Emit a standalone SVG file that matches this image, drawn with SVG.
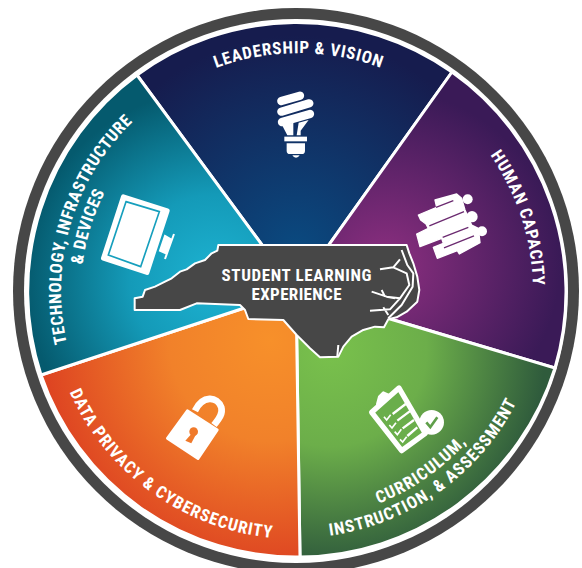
<svg xmlns="http://www.w3.org/2000/svg" width="582" height="568" viewBox="0 0 582 568">
<style>
.lbl{font-family:"Liberation Sans Narrow","Roboto Condensed","Liberation Sans",sans-serif;font-weight:700;font-size:17px;fill:#fff}
.sec{stroke:#fff;stroke-width:3}
.ic{fill:#fff}
</style>
<defs>
<radialGradient id="gb" gradientUnits="userSpaceOnUse" cx="296" cy="250" r="215"><stop offset="0" stop-color="#0a4a80"/><stop offset="1" stop-color="#161c4e"/></radialGradient>
<radialGradient id="gt" gradientUnits="userSpaceOnUse" cx="215" cy="280" r="190"><stop offset="0" stop-color="#1db3d2"/><stop offset=".45" stop-color="#149ab8"/><stop offset="1" stop-color="#055a6e"/></radialGradient>
<radialGradient id="gp" gradientUnits="userSpaceOnUse" cx="385" cy="265" r="175"><stop offset="0" stop-color="#8d2f80"/><stop offset="1" stop-color="#3a1a57"/></radialGradient>
<radialGradient id="gg" gradientUnits="userSpaceOnUse" cx="330" cy="350" r="215"><stop offset="0" stop-color="#79c14c"/><stop offset=".45" stop-color="#6cae4a"/><stop offset="1" stop-color="#2f5b3c"/></radialGradient>
<radialGradient id="go" gradientUnits="userSpaceOnUse" cx="270" cy="340" r="225"><stop offset="0" stop-color="#f7902a"/><stop offset=".45" stop-color="#f1812a"/><stop offset="1" stop-color="#de4522"/></radialGradient>
<path id="a1" d="M216,68 A237,237 0 0 1 381,68"/>
<path id="a2" d="M490.1,155.1 A237,237 0 0 1 532.9,284.8"/>
<path id="a3" d="M66.9,343.1 A235,235 0 0 1 132.4,122.2"/>
<path id="a4" d="M82.6,264.8 A215,215 0 0 1 104.8,192.7"/>
<path id="a5" d="M69.5,391.9 A248,248 0 0 0 271.8,537.8"/>
<path id="a6" d="M329.9,535.7 A247,247 0 0 0 516.5,402.4"/>
<path id="a7" d="M378.4,503.6 A228,228 0 0 0 466.5,442.4"/>
</defs>

<g id="ring">
<circle cx="296" cy="291" r="283" fill="#474747"/>
<circle cx="296" cy="291" r="272" fill="#fff"/>
</g>

<g id="leadership">
<path class="sec" fill="url(#gb)" d="M296,291 L137,75 A269,269 0 0 1 452,72 Z"/>
<text class="lbl"><textPath href="#a1" textLength="168" lengthAdjust="spacing">LEADERSHIP &amp; VISION</textPath></text>
<g transform="translate(200,40) scale(.3333)" class="ic">
<path d="M244,183 L300,167 M244,215 L328,190 M246,246 L330,222" stroke="#fff" stroke-linecap="round" stroke-width="25" fill="none"/>
<path d="M246,255 L280,248 L280,286 L262,286 Z M296,248 L326,240 L302,272 L302,286 L290,286 Z"/>
<rect x="253" y="290" width="68" height="14"/>
<path d="M260,310 H315 V332 Q315,342 305,342 H270 Q260,342 260,332 Z"/>
<path d="M277,346 H299 Q295,353 288,353 Q281,353 277,346 Z"/>
</g>
</g>

<g id="human-capacity">
<path class="sec" fill="url(#gp)" d="M296,291 L452,72 A269,269 0 0 1 555,368 Z"/>
<text class="lbl"><textPath href="#a2" textLength="139" lengthAdjust="spacing">HUMAN CAPACITY</textPath></text>
<g transform="translate(400,130) scale(.3333)" class="ic">
<circle cx="203" cy="208" r="15"/><circle cx="216" cy="260" r="17"/><circle cx="246" cy="304" r="15"/>
<path d="M105,210 L170,192 L185,205 L195,240 L215,285 L235,295 L240,338 L178,372 L172,362 L112,385 L100,352 L130,340 L125,325 L60,350 L50,312 L85,295 L78,282 L62,270 L55,255 L110,232 Z" stroke="#fff" stroke-width="4" stroke-linejoin="round"/>
<path d="M88,288 L192,245 M128,322 L205,292 M132,354 L222,318 M108,232 L160,212" stroke="#6b2a70" stroke-width="4" fill="none"/>
</g>
</g>

<g id="curriculum">
<path class="sec" fill="url(#gg)" d="M296,291 L555,368 A269,269 0 0 1 300,557 Z"/>
<text class="lbl"><textPath href="#a6" textLength="238" lengthAdjust="spacing">INSTRUCTION, &amp; ASSESSMENT</textPath></text>
<text class="lbl"><textPath href="#a7" textLength="108" lengthAdjust="spacing">CURRICULUM,</textPath></text>
<g transform="translate(320,380) scale(.3333)">
<path d="M155,97 L237,24 L316,160 L245,212 Z" fill="#6aae4b" stroke="#fff" stroke-width="16" stroke-linejoin="round"/>
<path d="M172,72 L212,48 L190,38 L178,50 Z" fill="#fff" stroke="#fff" stroke-width="8" stroke-linejoin="round"/>
<path d="M218,102 L257,72 M232,122 L272,92 M248,145 L282,120 M262,168 L292,142" stroke="#fff" stroke-width="7" fill="none"/>
<path d="M192,110 L200,120 L212,104 M208,135 L216,144 L228,128 M224,155 L232,164 L244,148 M240,178 L248,186 L260,170" stroke="#fff" stroke-width="5" fill="none"/>
<circle cx="335" cy="127" r="37" fill="#fff"/>
<path d="M319,127 L331,141 L352,112" stroke="#5f9f4a" stroke-width="8" fill="none"/>
</g>
</g>

<g id="data-privacy">
<path class="sec" fill="url(#go)" d="M296,291 L300,557 A269,269 0 0 1 41,375 Z"/>
<text class="lbl"><textPath href="#a5" textLength="261" lengthAdjust="spacing">DATA PRIVACY &amp; CYBERSECURITY</textPath></text>
<g transform="translate(60,380) scale(.3333)">
<path d="M405,92 C428,45 472,48 484,82 C490,105 472,122 462,135" fill="none" stroke="#fff" stroke-width="20"/>
<path d="M322,175 L382,92 L472,150 L414,236 Z" fill="#fff" stroke="#fff" stroke-width="8" stroke-linejoin="round"/>
<circle cx="401" cy="155" r="13" fill="#f0792a"/>
<path d="M394,162 L376,182 L394,190 L407,165 Z" fill="#f0792a"/>
</g>
</g>

<g id="technology">
<path class="sec" fill="url(#gt)" d="M296,291 L41,375 A269,269 0 0 1 137,75 Z"/>
<text class="lbl"><textPath href="#a3" textLength="241" lengthAdjust="spacing">TECHNOLOGY, INFRASTRUCTURE</textPath></text>
<text class="lbl"><textPath href="#a4" textLength="76" lengthAdjust="spacing">&amp; DEVICES</textPath></text>
<g transform="translate(40,100) scale(.3333)">
<path d="M250,290 L382,332 L321,518 L190,475 Z" fill="#fff" stroke="#fff" stroke-width="14" stroke-linejoin="round"/>
<path d="M258,305 L358,335 L302,500 L205,465 Z" fill="#fff" stroke="#169fbd" stroke-width="5"/>
<path d="M375,408 L392,418 L378,460 L360,452 Z M402,402 L375,477" fill="#fff" stroke="#fff" stroke-width="6"/>
</g>
</g>

<g id="nc-map">
<g transform="translate(130,230) scale(.3333)">
<path fill="#474747" stroke="#fff" stroke-width="6" stroke-linejoin="round" d="M14,240 L14,205 L38,200 L45,180 L75,170 L105,155 L125,145 L150,125 L170,118 L195,100 L225,90 L245,70 L262,62 L265,45 L830,45 L838,70 L850,100 L862,140 L868,180 L862,215 L830,245 L800,262 L775,268 L762,292 L735,290 L700,300 L665,320 L640,350 L625,380 L570,382 L540,355 L500,315 L460,270 L355,267 L345,240 L330,225 L200,220 L150,240 Z"/>
<path fill="none" stroke="#fff" stroke-width="6" stroke-linejoin="round" d="M750,118 L790,112 L810,88 M790,112 L830,130 L838,165 L810,205 L770,200 L725,185 M755,180 L765,200 M770,200 L795,205 M810,205 L780,238 L720,242 M760,232 L775,255 M815,60 L832,105 L850,130 L848,170 L815,225 L775,265 M625,345 L622,378"/>
</g>
<text x="296.500" y="281" text-anchor="middle" class="lbl" textLength="150" lengthAdjust="spacing">STUDENT LEARNING</text>
<text x="296.500" y="299.500" text-anchor="middle" class="lbl" textLength="90" lengthAdjust="spacing">EXPERIENCE</text>
</g>
</svg>
